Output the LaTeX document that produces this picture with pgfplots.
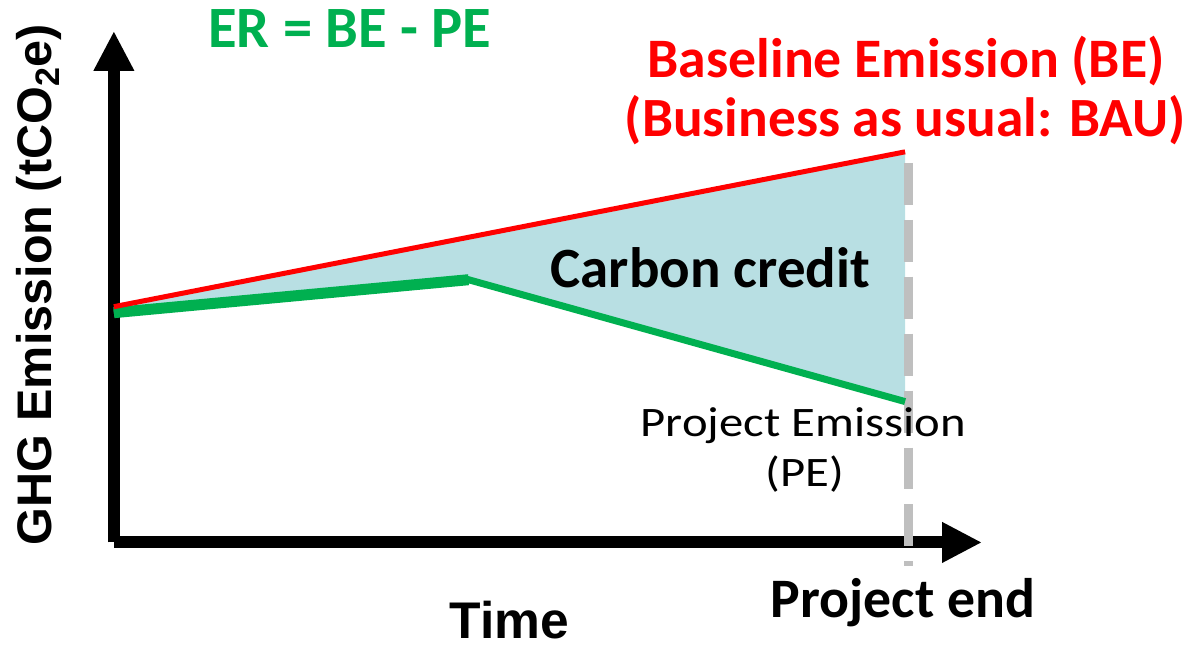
\documentclass[border=0pt]{standalone}
\usepackage{fontspec}
\setmainfont{Carlito}
\newfontfamily\arialf{Liberation Sans}
\usepackage{pgfplots}
\pgfplotsset{compat=1.18}
\usepackage{pgfplotstable}
\usetikzlibrary{arrows.meta}
\definecolor{bered}{HTML}{FF0000}
\definecolor{pegreen}{HTML}{00B050}
\definecolor{ccfill}{HTML}{B8DFE3}
\definecolor{endgray}{HTML}{BFBFBF}

\pgfplotstableread{
x y
0 236
792 391
}\betable
\pgfplotstableread{
x y
0 230
355 263
792 141
}\petable

\begin{document}
\begin{tikzpicture}
\begin{axis}[
  scale only axis, width=434.5pt, height=256pt,
  xmin=0, xmax=869, ymin=0, ymax=512,
  axis lines=left,
  axis line style={line width=6pt, -{Triangle[width=19pt,length=20pt]}},
  xtick=\empty, ytick=\empty,
  clip=false,
]
\path (axis cs:-114,-104) rectangle (axis cs:1078,543);
\addplot[draw=none, fill=ccfill] coordinates {(0,236)(792,391)(792,141)(355,263)(0,230)} -- cycle;
\addplot[endgray, line width=4.5pt, dash pattern=on 21pt off 7.5pt] coordinates {(795,380)(795,-24)};
\addplot[pegreen, line width=3.5pt] table[x=x,y=y] {\petable};
\addplot[pegreen, line width=5.5pt, line cap=butt] coordinates {(0,230)(355,263)};
\addplot[bered, line width=2.5pt] table[x=x,y=y] {\betable};

\node[anchor=base, text=pegreen, font=\fontsize{29.3}{30}\selectfont\bfseries] at (axis cs:236,495) {ER = BE - PE};
\node[anchor=base, text=bered, font=\fontsize{27.9}{30}\selectfont\bfseries] at (axis cs:793,465) {Baseline Emission (BE)};
\node[anchor=base, text=bered, font=\fontsize{27.7}{30}\selectfont\bfseries] at (axis cs:792,406) {(Business as usual: BAU)};
\node[anchor=base, font=\fontsize{28.5}{30}\selectfont\bfseries] at (axis cs:597,255) {Carbon credit};
\node[anchor=base, font=\fontsize{21}{22}\selectfont] at (axis cs:690,106) {\scalebox{1.16}[1]{Project Emission}};
\node[anchor=base, font=\fontsize{21}{22}\selectfont] at (axis cs:692,56) {\scalebox{1.16}[1]{(PE)}};
\node[anchor=base, font=\fontsize{27.9}{30}\selectfont\bfseries] at (axis cs:790,-75) {Project end};
\node[anchor=base, font=\arialf\fontsize{25.8}{30}\selectfont\bfseries] at (axis cs:396,-96) {Time};
\node[anchor=base, rotate=90, font=\arialf\fontsize{24.3}{26}\selectfont\bfseries] at (axis cs:-62,258) {GHG Emission (tCO\textsubscript{2}e)};
\end{axis}
\end{tikzpicture}
\end{document}
